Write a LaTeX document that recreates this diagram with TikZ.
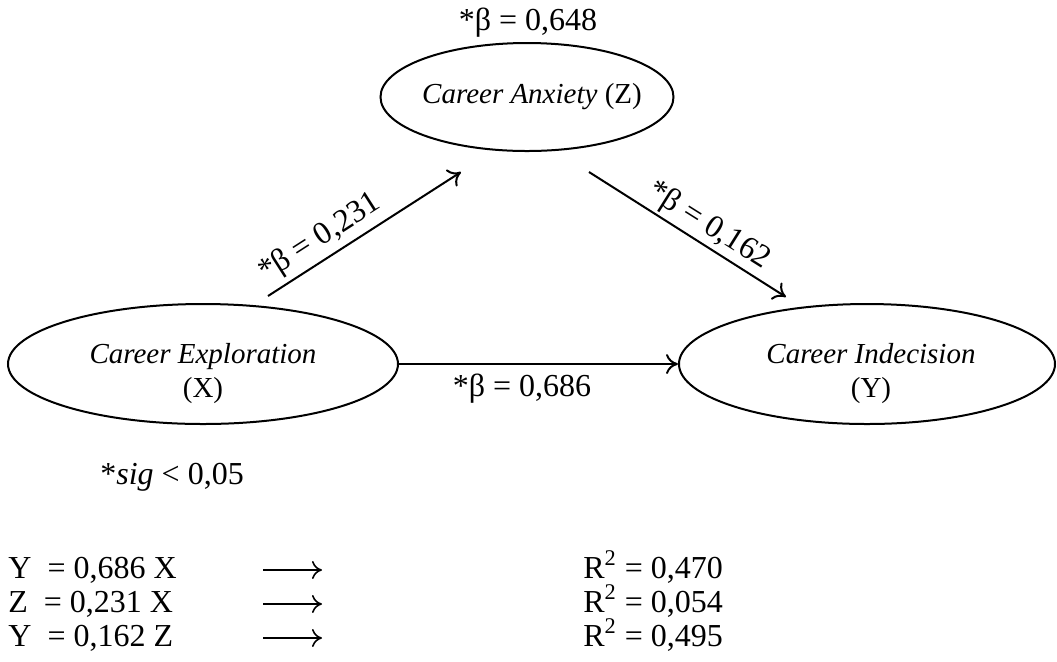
\documentclass[tikz,border=0pt]{standalone}
\usepackage{fontspec}
\setmainfont{Liberation Serif}
\usetikzlibrary{arrows.meta,shapes.geometric}
\begin{document}
\begin{tikzpicture}[x=0.5pt,y=-0.5pt,
  every node/.style={inner sep=0pt},
  lbl/.style={font=\fontsize{16}{18}\selectfont},
  intext/.style={font=\fontsize{14.5}{17}\selectfont, align=center},
  latent/.style={draw, ellipse, line width=1pt},
  path/.style={line width=1pt, -{To[length=6pt,width=10pt,line width=1pt]}},
  eqarrow/.style={line width=0.8pt, -{To[length=5pt,width=9pt,line width=0.8pt]}}]
\useasboundingbox (0,0) rectangle (1057,661);
% ellipses
\node[latent, minimum width=146.5pt, minimum height=54pt] (Z) at (527,97) {};
\node[latent, minimum width=195pt, minimum height=60pt] (X) at (203,364) {};
\node[latent, minimum width=188pt, minimum height=60pt] (Y) at (867,364) {};
\node[intext] (Zt) at (532,97) {\textit{Career Anxiety} (Z)};
\node[intext] (Xt) at (203,374) {\textit{Career Exploration}\\(X)};
\node[intext] (Yt) at (871,374) {\textit{Career Indecision}\\(Y)};
% connector endpoints
\coordinate (xz1) at (268,296);
\coordinate (xz2) at (461,172);
\coordinate (zy1) at (589,172);
\coordinate (zy2) at (786,297);
\draw[path] (xz1) -- (xz2);
\draw[path] (zy1) -- (zy2);
\draw[path] (X.east) -- (Y.west);
% labels
\node[lbl, anchor=base] (lz) at (528,30) {*β = 0,648};
\node[lbl, rotate=32.7] (lxz) at (320,238) {*β = 0,231};
\node[lbl, rotate=-32.2] (lzy) at (709,226) {*β = 0,162};
\node[lbl, anchor=base] (lxy) at (522,396) {*β = 0,686};
\node[lbl, anchor=base west] (sig) at (100,484) {*\textit{sig} < 0,05};
% equations
\node[lbl, anchor=base west] (e1) at (8,578) {Y\ \ = 0,686 X};
\node[lbl, anchor=base west] (e2) at (8,612) {Z\ \ = 0,231 X};
\node[lbl, anchor=base west] (e3) at (8,646) {Y\ \ = 0,162 Z};
\node[lbl, anchor=base west] (r1) at (583,578) {R\textsuperscript{2} = 0,470};
\node[lbl, anchor=base west] (r2) at (583,612) {R\textsuperscript{2} = 0,054};
\node[lbl, anchor=base west] (r3) at (583,646) {R\textsuperscript{2} = 0,495};
\coordinate (a1s) at (263,570); \coordinate (a1e) at (322,570);
\coordinate (a2s) at (263,604); \coordinate (a2e) at (322,604);
\coordinate (a3s) at (263,638); \coordinate (a3e) at (322,638);
\draw[eqarrow] (a1s) -- (a1e);
\draw[eqarrow] (a2s) -- (a2e);
\draw[eqarrow] (a3s) -- (a3e);
\end{tikzpicture}
\end{document}
